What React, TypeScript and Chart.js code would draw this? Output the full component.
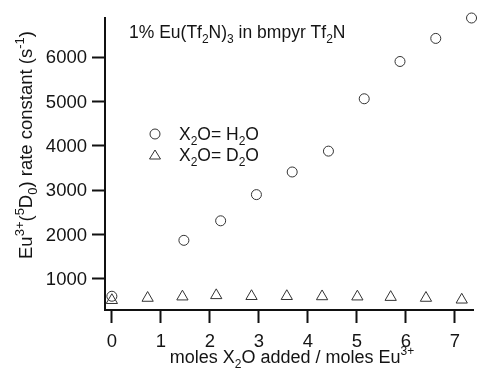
import React, { useEffect, useRef } from "react";
import { Chart, registerables } from "chart.js";

Chart.register(...registerables);

// Eu3+ decay rate constants versus moles of added water per mole Eu3+
const h2oMoles = [0, 1.47, 2.22, 2.95, 3.68, 4.42, 5.15, 5.88, 6.61, 7.34];
const h2oRate = [610, 1870, 2310, 2900, 3410, 3880, 5060, 5900, 6420, 6880];
const d2oMoles = [0, 0.73, 1.44, 2.13, 2.85, 3.57, 4.29, 5.01, 5.69, 6.41, 7.14];
const d2oRate = [520, 570, 600, 630, 610, 610, 605, 600, 590, 570, 530];

const xTickValues = [0, 1, 2, 3, 4, 5, 6, 7];
const yTickValues = [1000, 2000, 3000, 4000, 5000, 6000];

const titleText = "1% Eu(Tf_{2}N)_{3} in bmpyr Tf_{2}N";
const legendH2O = "X_{2}O= H_{2}O";
const legendD2O = "X_{2}O= D_{2}O";
const xAxisTitle = "moles X_{2}O added / moles Eu^{3+}";
const yAxisTitle = "Eu^{3+}(^{5}D_{0}) rate constant (s^{-1})";

const INK = "#141414";
const FAMILY = '"Liberation Sans", Arial, Helvetica, sans-serif';

type Run = { t: string; m: "n" | "sub" | "sup" };

// parse "_{..}" as subscript and "^{..}" as superscript
function parseRich(s: string): Run[] {
  const runs: Run[] = [];
  let i = 0;
  let buf = "";
  while (i < s.length) {
    const c = s[i];
    if ((c === "_" || c === "^") && s[i + 1] === "{") {
      if (buf) runs.push({ t: buf, m: "n" });
      buf = "";
      const end = s.indexOf("}", i);
      runs.push({ t: s.slice(i + 2, end), m: c === "_" ? "sub" : "sup" });
      i = end + 1;
    } else {
      buf += c;
      i++;
    }
  }
  if (buf) runs.push({ t: buf, m: "n" });
  return runs;
}

function drawRich(
  ctx: CanvasRenderingContext2D,
  text: string,
  x: number,
  y: number,
  size: number,
  align: "left" | "center" | "right"
) {
  const runs = parseRich(text);
  const fontFor = (r: Run) => `${r.m === "n" ? size : Math.round(size * 0.68)}px ${FAMILY}`;
  let total = 0;
  for (const r of runs) {
    ctx.font = fontFor(r);
    total += ctx.measureText(r.t).width;
  }
  let cx = align === "center" ? x - total / 2 : align === "right" ? x - total : x;
  ctx.textAlign = "left";
  ctx.textBaseline = "alphabetic";
  for (const r of runs) {
    ctx.font = fontFor(r);
    const dy = r.m === "sub" ? size * 0.28 : r.m === "sup" ? -size * 0.45 : 0;
    ctx.fillText(r.t, cx, y + dy);
    cx += ctx.measureText(r.t).width;
  }
}

const textPlugin = {
  id: "richText",
  afterDraw(chart: any) {
    const ctx: CanvasRenderingContext2D = chart.ctx;
    const xs = chart.scales.x;
    const ys = chart.scales.y;
    ctx.save();
    ctx.fillStyle = INK;

    // tick labels
    ctx.font = `18.5px ${FAMILY}`;
    ctx.textAlign = "center";
    ctx.textBaseline = "alphabetic";
    for (const v of xTickValues) {
      ctx.fillText(String(v), xs.getPixelForValue(v), 347);
    }
    ctx.textAlign = "right";
    ctx.textBaseline = "middle";
    for (const v of yTickValues) {
      ctx.fillText(String(v), 87, ys.getPixelForValue(v) + 1);
    }

    // title inside the plot
    drawRich(ctx, titleText, 129, 38, 17.5, "left");

    // legend
    drawRich(ctx, legendH2O, 179, 140, 17.5, "left");
    drawRich(ctx, legendD2O, 179, 161, 17.5, "left");
    ctx.strokeStyle = "#333";
    ctx.lineWidth = 1;
    ctx.beginPath();
    ctx.arc(155, 134, 5, 0, Math.PI * 2);
    ctx.stroke();
    ctx.beginPath();
    ctx.moveTo(155, 150);
    ctx.lineTo(160.5, 159);
    ctx.lineTo(149.5, 159);
    ctx.closePath();
    ctx.stroke();

    // axis titles
    drawRich(ctx, xAxisTitle, 292, 363, 18, "center");
    ctx.save();
    ctx.translate(32, 145);
    ctx.rotate(-Math.PI / 2);
    drawRich(ctx, yAxisTitle, 0, 0, 18.5, "center");
    ctx.restore();

    ctx.restore();
  },
};

export default function App() {
  const ref = useRef<HTMLCanvasElement | null>(null);

  useEffect(() => {
    if (!ref.current) return;
    const chart = new Chart(ref.current, {
      type: "scatter",
      data: {
        datasets: [
          {
            label: "H2O",
            data: h2oMoles.map((x, i) => ({ x, y: h2oRate[i] })),
            pointStyle: "circle",
            pointRadius: 5,
            borderColor: "#333",
            backgroundColor: "rgba(0,0,0,0)",
            borderWidth: 1,
            clip: false,
          },
          {
            label: "D2O",
            data: d2oMoles.map((x, i) => ({ x, y: d2oRate[i] })),
            pointStyle: "triangle",
            pointRadius: 6.5,
            borderColor: "#333",
            backgroundColor: "rgba(0,0,0,0)",
            borderWidth: 1,
            clip: false,
          },
        ],
      },
      options: {
        responsive: false,
        animation: false,
        devicePixelRatio: 1,
        layout: { padding: { top: 18, right: 3, left: 0, bottom: 0 } },
        plugins: {
          legend: { display: false },
          tooltip: { enabled: false },
          title: { display: false },
        },
        scales: {
          x: {
            type: "linear",
            min: -0.14,
            max: 7.38,
            border: { display: true, color: "#111", width: 2 },
            grid: {
              display: true,
              drawOnChartArea: false,
              drawTicks: true,
              tickLength: 13,
              tickColor: "#111",
              tickWidth: 2,
            },
            ticks: { display: false },
            afterBuildTicks: (axis: any) => {
              axis.ticks = xTickValues.map((value) => ({ value }));
            },
            afterFit: (axis: any) => {
              axis.height = 60;
            },
          },
          y: {
            type: "linear",
            min: 300,
            max: 6880,
            border: { display: true, color: "#111", width: 2 },
            grid: {
              display: true,
              drawOnChartArea: false,
              drawTicks: true,
              tickLength: 13,
              tickColor: "#111",
              tickWidth: 2,
            },
            ticks: { display: false },
            afterBuildTicks: (axis: any) => {
              axis.ticks = yTickValues.map((value) => ({ value }));
            },
            afterFit: (axis: any) => {
              axis.width = 105;
            },
          },
        },
      },
      plugins: [textPlugin],
    });
    return () => chart.destroy();
  }, []);

  return (
    <div style={{ position: "fixed", left: 0, top: 0, width: 481, height: 370, background: "#fff" }}>
      <canvas ref={ref} width={481} height={370} style={{ display: "block" }} />
    </div>
  );
}
